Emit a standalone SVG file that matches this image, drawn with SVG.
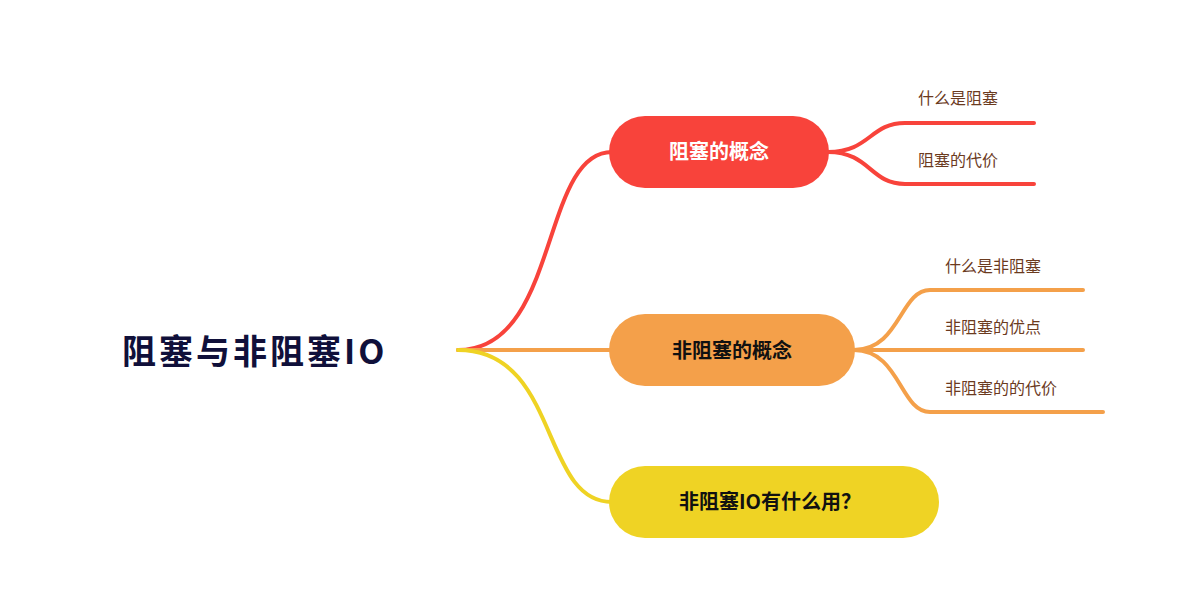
<svg xmlns="http://www.w3.org/2000/svg" width="1177" height="616" viewBox="0 0 1177 616">
<style>
.c{fill:none;stroke-width:4;stroke-linecap:round}
.t{font-family:"Noto Sans CJK SC","Noto Sans",sans-serif}
.b{font-size:20px;font-weight:bold}
.s{font-size:16px;fill:#6b3a1e}
</style>
<rect width="1177" height="616" fill="#fff"/>
<g id="connectors">
<path class="c" stroke="#f8433b" d="M458 350 C560 350 540 152 612 152"/>
<path class="c" stroke="#f4a04a" d="M458 350 L612 350"/>
<path class="c" stroke="#efd324" d="M458 350 C560 350 540 502 612 502"/>
<path class="c" stroke="#f8433b" d="M828 152 C870 152 870 123 905 123 L1034 123 M828 152 C870 152 870 184 905 184 L1034 184"/>
<path class="c" stroke="#f4a04a" d="M854 350 C900 350 900 290 930 290 L1083 290 M854 350 L1083 350 M854 350 C900 350 900 412 930 412 L1103 412"/>
</g>
<g id="root"><text class="t" x="122" y="364" font-size="34" font-weight="bold" fill="#10103a" letter-spacing="3">阻塞与非阻塞IO</text></g>
<g id="n1"><rect x="609" y="116" width="220" height="72" rx="36" fill="#f8433b"/><text class="t b" x="719" y="159" text-anchor="middle" fill="#fff">阻塞的概念</text></g>
<g id="n2"><rect x="609" y="314" width="246" height="72" rx="36" fill="#f4a04a"/><text class="t b" x="732" y="358" text-anchor="middle" fill="#111">非阻塞的概念</text></g>
<g id="n3"><rect x="609" y="466" width="330" height="72" rx="36" fill="#efd324"/><text class="t b" x="770" y="509" text-anchor="middle" fill="#111">非阻塞IO有什么用？</text></g>
<g id="l1"><text class="t s" x="918" y="104">什么是阻塞</text></g>
<g id="l2"><text class="t s" x="918" y="166">阻塞的代价</text></g>
<g id="l3"><text class="t s" x="945" y="272">什么是非阻塞</text></g>
<g id="l4"><text class="t s" x="945" y="333">非阻塞的优点</text></g>
<g id="l5"><text class="t s" x="945" y="394">非阻塞的的代价</text></g>
</svg>
